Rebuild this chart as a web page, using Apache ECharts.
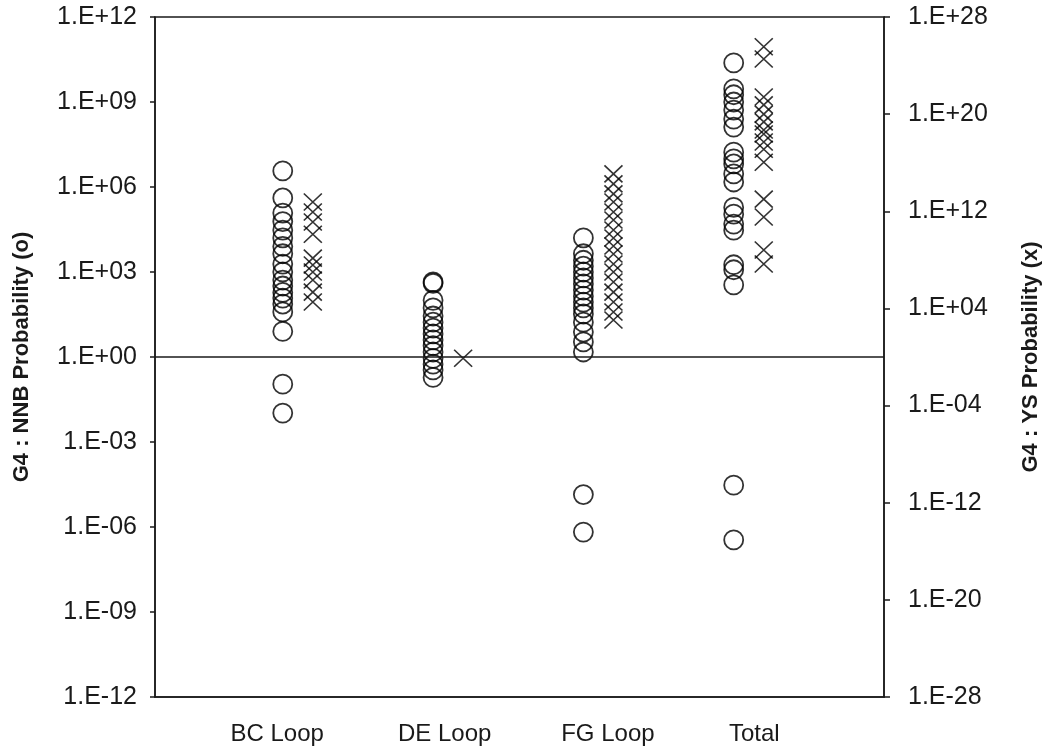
<!DOCTYPE html>
<html>
<head>
<meta charset="utf-8">
<script src="https://cdn.jsdelivr.net/npm/echarts@6/dist/echarts.min.js"></script>
<style>
    html, body { margin: 0; padding: 0; background: #fff; }
    #myChart { width: 1050px; height: 750px; }
</style>
</head>
<body>
<div id="myChart"></div>
<script>
    // categories on the x axis
    const categories = ['BC Loop', 'DE Loop', 'FG Loop', 'Total'];

    // G4 : NNB probability (circles, left axis)
    const nnbBC = [3.7e6, 4.1e5, 1.2e5, 6e4, 3e4, 1.6e4, 8e3, 4.4e3, 1.9e3, 1e3, 5.2e2, 3.2e2, 1.9e2, 1.2e2, 74, 39, 8, 0.11, 0.0105];
    const nnbDE = [450, 400, 100, 54, 28, 17, 10.5, 6.5, 4, 2.5, 1.5, 0.9, 0.56, 0.35, 0.19];
    const nnbFG = [1.6e4, 4.4e3, 2.6e3, 1.6e3, 1e3, 6.2e2, 3.8e2, 2.3e2, 1.4e2, 87, 54, 33, 17, 7.6, 3.4, 1.5, 1.4e-5, 6.6e-7];
    const nnbTotal = [2.4e10, 2.9e9, 1.8e9, 1e9, 5.2e8, 2.5e8, 1.3e8, 1.7e7, 9.8e6, 6.5e6, 2.9e6, 1.5e6, 1.9e5, 1.1e5, 4.9e4, 3e4, 1.8e3, 1.2e3, 3.5e2, 3e-5, 3.5e-7];

    // G4 : YS probability (crosses, right axis)
    const ysBC = [5.9e12, 8.7e11, 1.3e11, 1.3e10, 1.4e8, 3.8e7, 1e7, 2.2e6, 2.2e5, 3.4e4];
    const ysDE = [0.8];
    const ysFG = [1.2e15, 1.8e14, 2.7e13, 5.9e12, 8.7e11, 1.9e11, 2.9e10, 6.3e9, 1.4e9, 3e8, 4.6e7, 1e7, 1.5e6, 2.2e5, 3.4e4, 5.1e3, 1.1e3];
    const ysTotal = [3.5e25, 3.5e24, 2.6e21, 5.8e20, 1e20, 2.3e19, 5e18, 2.3e18, 5.1e17, 1.3e17, 1.1e16, 1e13, 3.4e11, 6.5e8, 4.6e7];

    // tick values
    const leftTicks = [1e-12, 1e-9, 1e-6, 1e-3, 1, 1e3, 1e6, 1e9, 1e12];
    const rightTicks = [1e-28, 1e-20, 1e-12, 1e-4, 1e4, 1e12, 1e20, 1e28];

    const nnbGroups = [nnbBC, nnbDE, nnbFG, nnbTotal];
    const ysGroups = [ysBC, ysDE, ysFG, ysTotal];

    // layout: circles sit at 1..4, crosses just to their right
    const crossOffset = 0.2;
    const labelPos = [0.963, 2.077, 3.163, 4.137];

    const nnbData = [];
    nnbGroups.forEach((arr, i) => arr.forEach(v => nnbData.push([i + 1, v])));
    const ysData = [];
    ysGroups.forEach((arr, i) => arr.forEach(v => ysData.push([i + 1 + crossOffset, v])));

    function expLabel(v) {
        const e = Math.round(Math.log10(v));
        const s = e < 0 ? '-' : '+';
        const a = Math.abs(e);
        return '1.E' + s + (a < 10 ? '0' + a : a);
    }

    const ink = '#1a1a1a';
    const font = 'Liberation Sans, Arial, sans-serif';

    let myChart = echarts.init(document.getElementById('myChart'));
    myChart.setOption({
        animation: false,
        backgroundColor: '#fff',
        textStyle: { fontFamily: font, color: ink },
        grid: {
            left: 155, right: 166, top: 17, bottom: 53,
            containLabel: false,
            outerBoundsMode: 'none',
            show: true, borderColor: ink, borderWidth: 1.5
        },
        xAxis: {
            type: 'value',
            min: 0.15,
            max: 5,
            splitLine: { show: false },
            axisTick: { show: false },
            axisLine: { lineStyle: { color: ink, width: 1.5 } },
            axisLabel: {
                customValues: labelPos,
                margin: 25,
                fontSize: 24,
                color: ink,
                fontFamily: font,
                formatter: v => categories[Math.round(v) - 1]
            }
        },
        yAxis: [
            {
                type: 'log',
                logBase: 10,
                min: 1e-12,
                max: 1e12,
                position: 'left',
                name: 'G4 : NNB Probability (o)',
                nameLocation: 'middle',
                nameRotate: 90,
                nameGap: 122,
                nameTextStyle: { fontSize: 22, fontWeight: 'bold', color: ink, fontFamily: font },
                splitLine: { show: false },
                minorTick: { show: false },
                axisLine: { show: true, lineStyle: { color: ink, width: 1.5 } },
                axisTick: { show: true, customValues: leftTicks, length: 5, lineStyle: { color: ink, width: 1.5 } },
                axisLabel: {
                    customValues: leftTicks,
                    margin: 18,
                    fontSize: 25,
                    color: ink,
                    fontFamily: font,
                    formatter: expLabel
                }
            },
            {
                type: 'log',
                logBase: 10,
                min: 1e-28,
                max: 1e28,
                position: 'right',
                name: 'G4 : YS Probability (x)',
                nameLocation: 'middle',
                nameRotate: 90,
                nameGap: 136,
                nameTextStyle: { fontSize: 22, fontWeight: 'bold', color: ink, fontFamily: font },
                splitLine: { show: false },
                minorTick: { show: false },
                axisLine: { show: true, lineStyle: { color: ink, width: 1.5 } },
                axisTick: { show: true, customValues: rightTicks, length: 6, lineStyle: { color: ink, width: 1.5 } },
                axisLabel: {
                    customValues: rightTicks,
                    margin: 24,
                    fontSize: 25,
                    color: ink,
                    fontFamily: font,
                    formatter: expLabel
                }
            }
        ],
        series: [
            {
                name: 'NNB',
                type: 'scatter',
                yAxisIndex: 0,
                symbol: 'circle',
                symbolSize: 19,
                itemStyle: { color: 'rgba(0,0,0,0)', borderColor: '#000', borderWidth: 1.8 },
                data: nnbData,
                markLine: {
                    silent: true,
                    symbol: 'none',
                    label: { show: false },
                    lineStyle: { color: ink, width: 1.5, type: 'solid' },
                    data: [{ yAxis: 1 }]
                }
            },
            {
                name: 'YS',
                type: 'scatter',
                yAxisIndex: 1,
                symbol: 'path://M0,0L10,10M10,0L0,10',
                symbolSize: [18, 17],
                itemStyle: { color: 'rgba(0,0,0,0)', borderColor: '#000', borderWidth: 1.6 },
                data: ysData
            }
        ]
    });
</script>
</body>
</html>
